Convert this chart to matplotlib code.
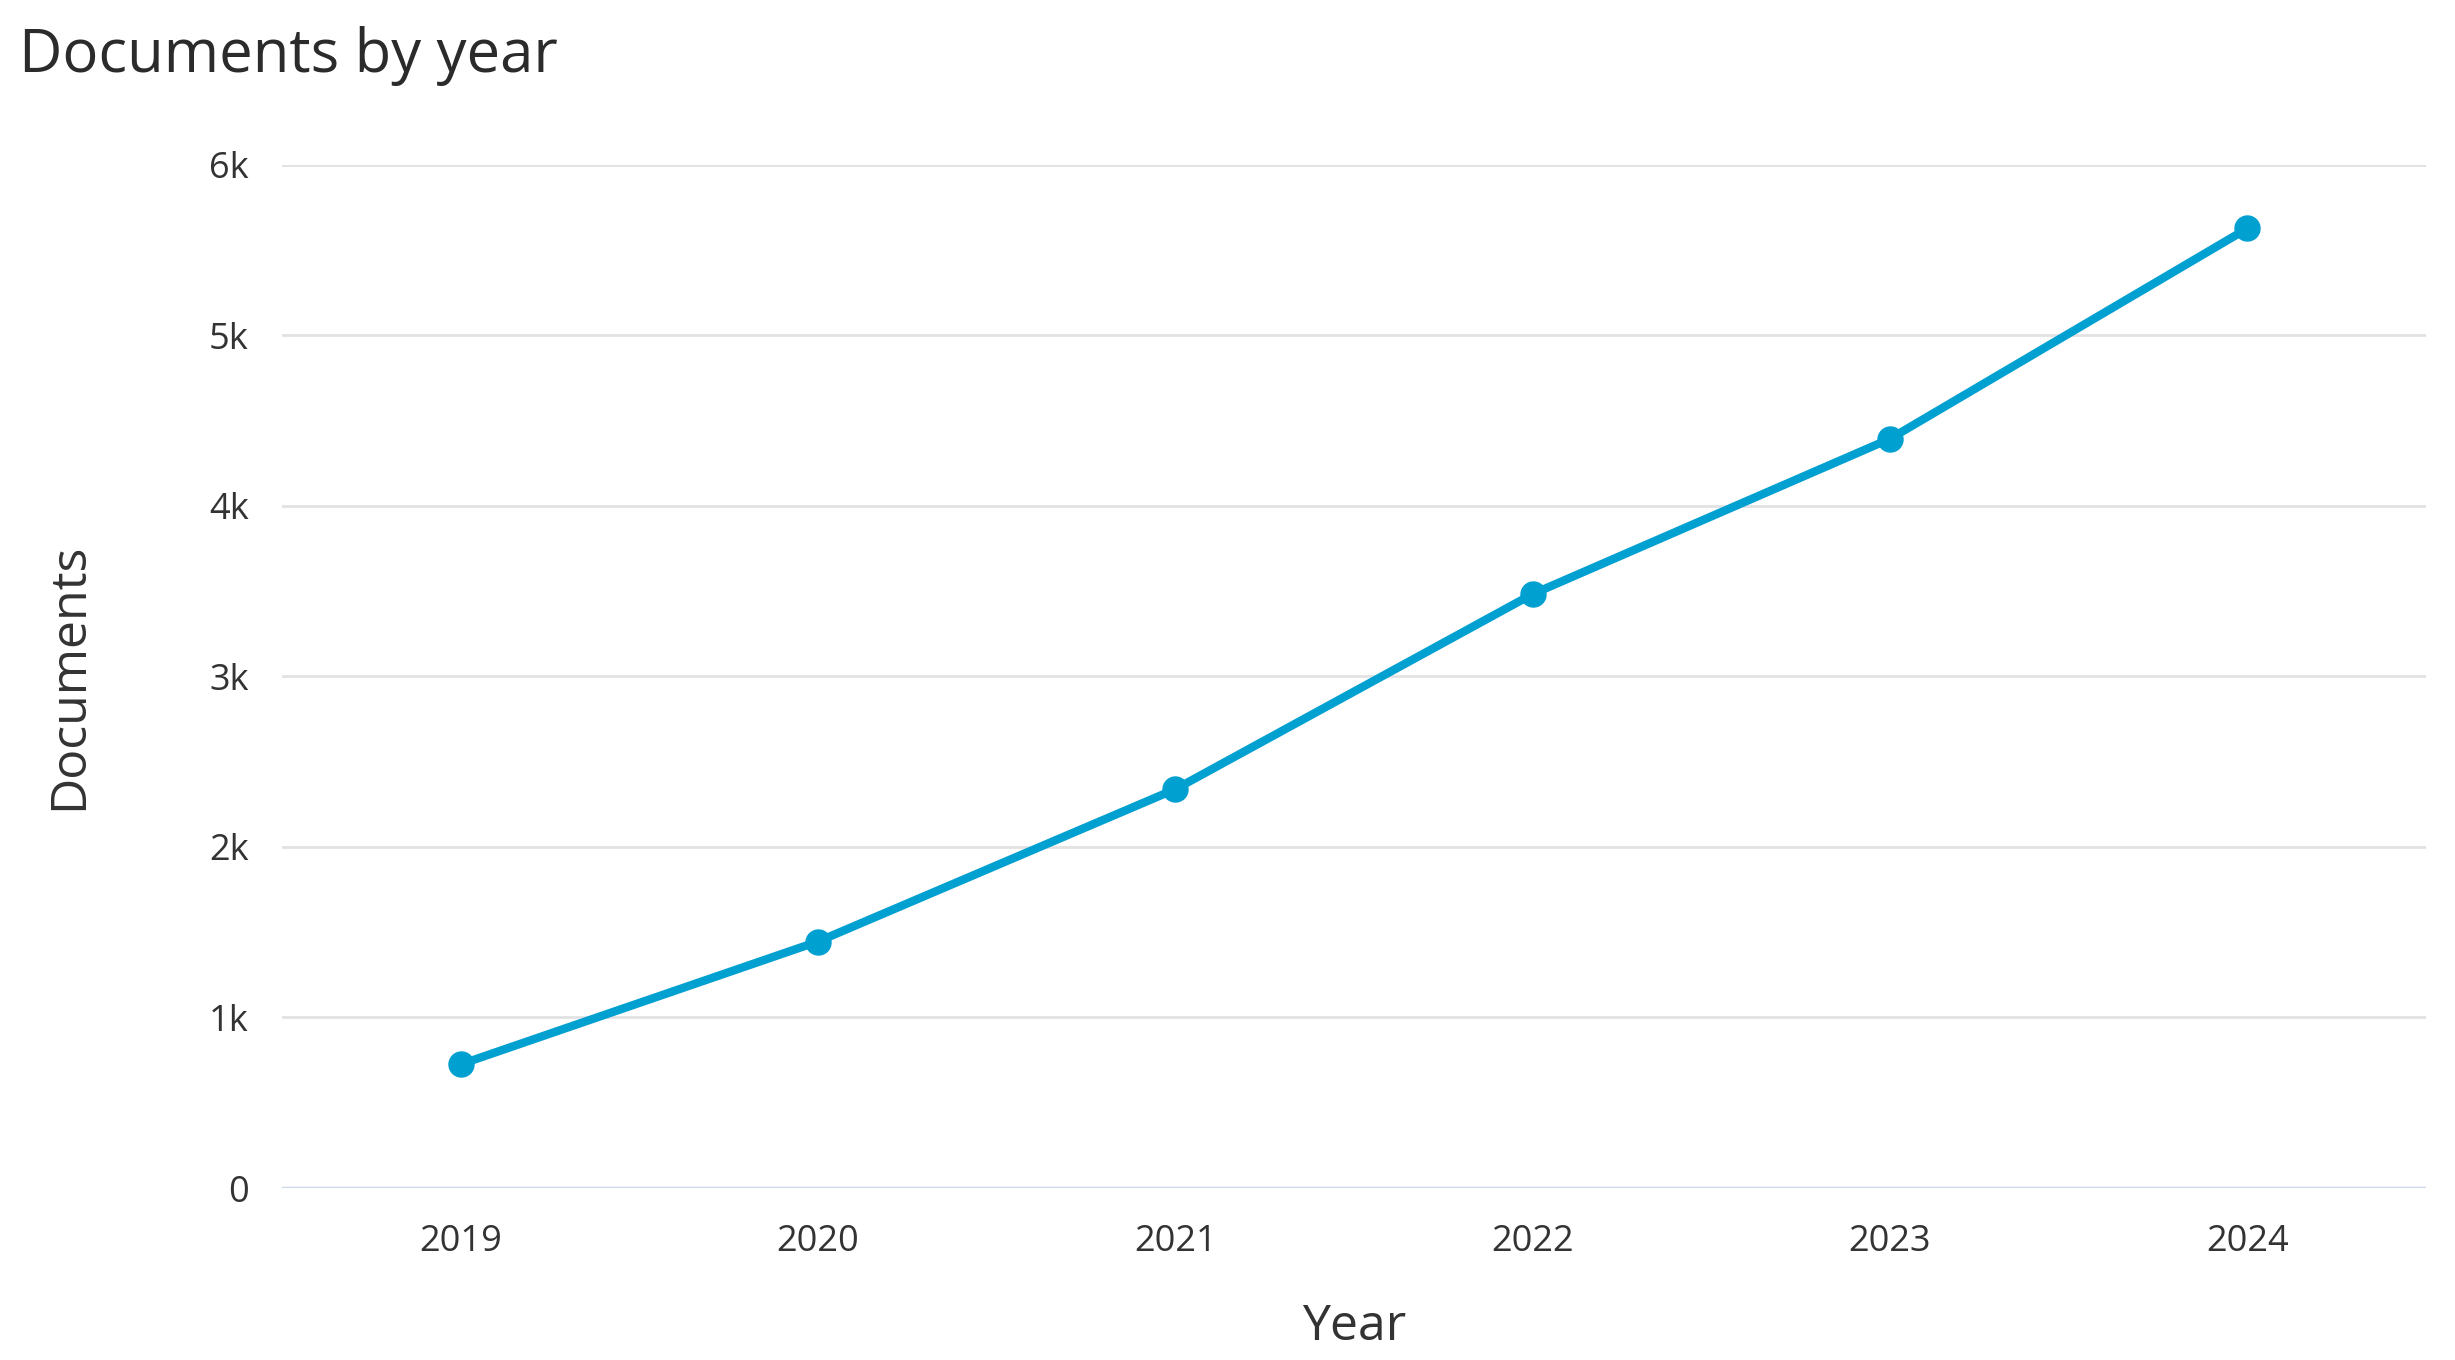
import matplotlib
matplotlib.use("Agg")
import matplotlib.pyplot as plt

years = ["2019", "2020", "2021", "2022", "2023", "2024"]
documents = [725, 1445, 2338, 3482, 4392, 5625]
y_ticks = [0, 1000, 2000, 3000, 4000, 5000, 6000]
y_tick_labels = ["0", "1k", "2k", "3k", "4k", "5k", "6k"]

plt.rcParams['font.family'] = ['Open Sans', 'DejaVu Sans']

W, H = 2455, 1360
fig = plt.figure(figsize=(W / 100, H / 100), dpi=100)
left, right, top, bottom = 282, 2426, 164.5, 1188
ax = fig.add_axes([left / W, 1 - bottom / H, (right - left) / W, (bottom - top) / H])

x = list(range(len(years)))
ax.plot(x, documents, color='#00a0d1', linewidth=6, marker='o', markersize=18,
        solid_capstyle='round', zorder=3, clip_on=False)

ax.set_xlim(-0.5, len(years) - 0.5)
ax.set_ylim(0, 6000)
ax.set_yticks(y_ticks)
ax.set_yticklabels(y_tick_labels)
ax.set_xticks(x)
ax.set_xticklabels(years)

for s in ax.spines.values():
    s.set_visible(False)
ax.grid(axis='y', color='#e2e2e2', linewidth=2)
ax.set_axisbelow(True)
ax.axhline(0, color='#ccd6eb', linewidth=2.5, zorder=2)

ax.tick_params(axis='both', length=0, labelsize=26, labelcolor='#333333')
ax.tick_params(axis='y', pad=24)
ax.tick_params(axis='x', pad=26)

ax.set_xlabel("Year", fontsize=36, color='#333333')
ax.xaxis.set_label_coords(0.5, -0.112)
ax.set_ylabel("Documents", fontsize=36, color='#333333')
ax.yaxis.set_label_coords(-0.0877, 0.5)

fig.text(19 / W, 1 - 72 / H, "Documents by year", fontsize=43, color='#2b2b2b',
         ha='left', va='baseline')

fig.savefig("out.png", dpi=100, facecolor='white')
